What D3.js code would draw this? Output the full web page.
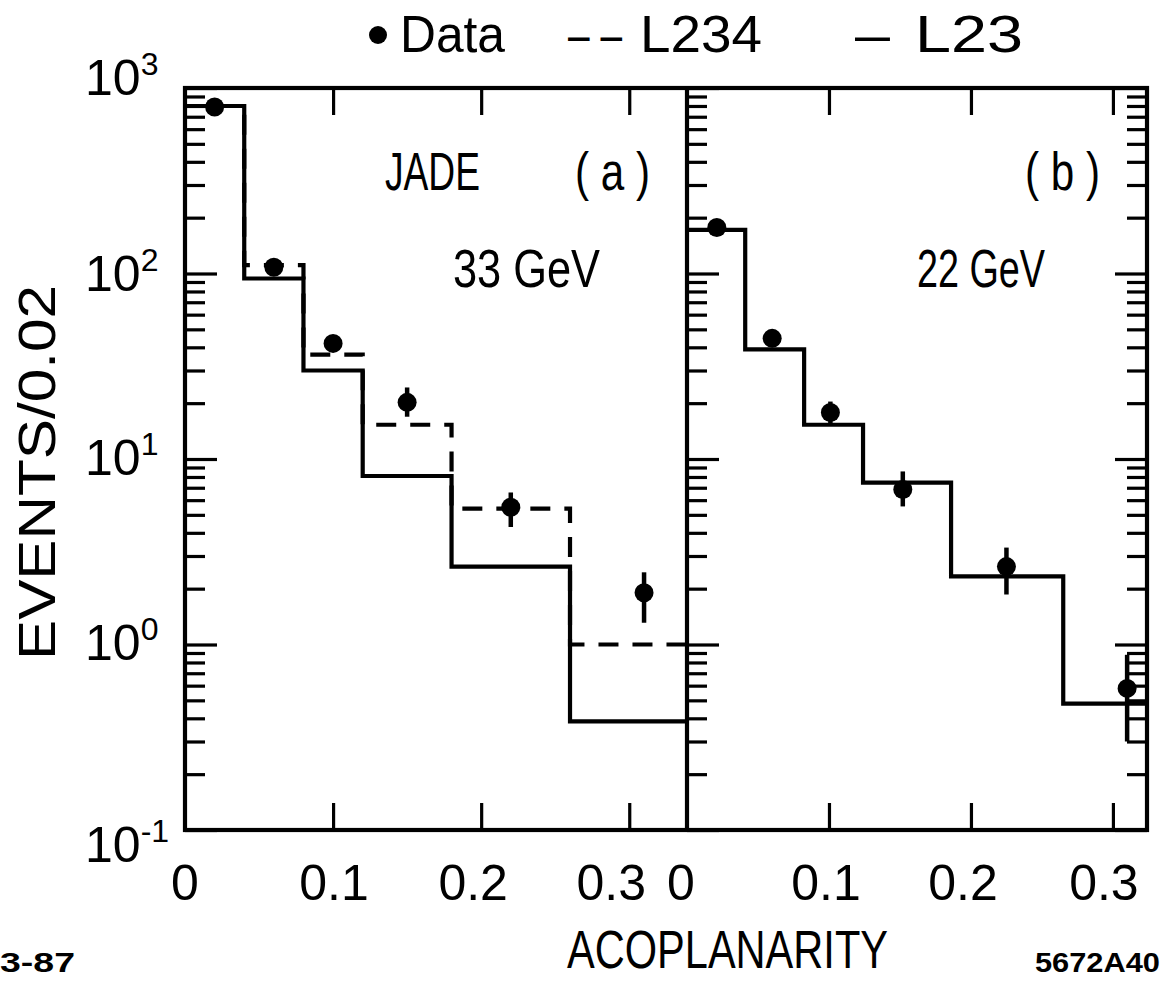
<!DOCTYPE html>
<html>
<head>
<meta charset="utf-8">
<script src="https://cdn.jsdelivr.net/npm/d3@7"></script>
<style>
  html, body { margin: 0; padding: 0; background: #fff; }
  svg { display: block; }
  text { font-family: 'Liberation Sans Narrow', 'Arial Narrow', 'Liberation Sans', Arial, sans-serif; fill: #000; }
</style>
</head>
<body>
<script>
// ---------------- data ----------------
const xTickValues = [0, 0.1, 0.2, 0.3];
const xTickLabels = ["0", "0.1", "0.2", "0.3"];
const yDecades = [0.1, 1, 10, 100, 1000];
const yExponents = ["-1", "0", "1", "2", "3"];

// panel (a) JADE 33 GeV
const binEdgesA = [0, 0.04, 0.08, 0.12, 0.18, 0.26, 0.339];
const l23A  = [800, 94, 30, 8.1, 2.63, 0.385];
const l234A = [800, 111, 36.5, 15.3, 5.4, 1.0];
const dataXA = [0.02, 0.06, 0.10, 0.15, 0.22, 0.31];
const dataYA = [790, 108, 42, 20.2, 5.5, 1.9];
const errLoA = [790, 104, 38, 16.9, 4.3, 1.31];
const errHiA = [790, 112, 46, 24.3, 6.6, 2.45];

// panel (b) 22 GeV
const binEdgesB = [0, 0.041, 0.0825, 0.124, 0.186, 0.265, 0.324];
const l23B  = [172, 39, 15.3, 7.46, 2.33, 0.48];
const dataXB = [0.021, 0.06, 0.101, 0.152, 0.225, 0.31];
const dataYB = [177, 44.7, 17.8, 6.85, 2.63, 0.58];
const errLoB = [177, 44.7, 15.5, 5.55, 1.86, 0.30];
const errHiB = [177, 44.7, 20.4, 8.57, 3.33, 0.88];

// ---------------- layout ----------------
const W = 1165, H = 981;
const yTop = 88, yBottom = 830;
const xA0 = 185, xA1 = 687, xB0 = 687, xB1 = 1147;

const svg = d3.select("body").append("svg").attr("width", W).attr("height", H);

const y = d3.scaleLog().domain([0.1, 1000]).range([yBottom, yTop]);
const xA = d3.scaleLinear().domain([0, binEdgesA[binEdgesA.length - 1]]).range([xA0, xA1]);
const xB = d3.scaleLinear().domain([0, binEdgesB[binEdgesB.length - 1]]).range([xB0, xB1]);

const minorVals = [];
for (let d = 0.1; d < 1000; d *= 10) for (let k = 2; k <= 9; k++) minorVals.push(+(d * k).toPrecision(3));

function styleAxis(g, w) {
  g.select(".domain").remove();
  g.selectAll(".tick line").attr("stroke", "#000").attr("stroke-width", w);
  g.selectAll(".tick text").remove();
}

function yTicksAt(x, dir) {
  const maj = dir > 0 ? d3.axisRight(y) : d3.axisLeft(y);
  const min = dir > 0 ? d3.axisRight(y) : d3.axisLeft(y);
  svg.append("g").attr("transform", `translate(${x},0)`)
    .call(maj.tickValues(yDecades).tickSize(32).tickFormat(""))
    .call(g => styleAxis(g, 3.2));
  svg.append("g").attr("transform", `translate(${x},0)`)
    .call(min.tickValues(minorVals).tickSize(20).tickFormat(""))
    .call(g => styleAxis(g, 3.2));
}
yTicksAt(xA0, 1);
yTicksAt(xB0, 1);
yTicksAt(xB1, -1);

function xTicks(scale) {
  svg.append("g").attr("transform", `translate(0,${yBottom})`)
    .call(d3.axisTop(scale).tickValues([0.1, 0.2, 0.3]).tickSize(27).tickFormat(""))
    .call(g => styleAxis(g, 3.2));
  svg.append("g").attr("transform", `translate(0,${yTop})`)
    .call(d3.axisBottom(scale).tickValues([0.1, 0.2, 0.3]).tickSize(27).tickFormat(""))
    .call(g => styleAxis(g, 3.2));
}
xTicks(xA);
xTicks(xB);

// frame
svg.append("rect").attr("x", xA0).attr("y", yTop).attr("width", xB1 - xA0).attr("height", yBottom - yTop)
  .attr("fill", "none").attr("stroke", "#000").attr("stroke-width", 4.2);
svg.append("line").attr("x1", xB0).attr("x2", xB0).attr("y1", yTop).attr("y2", yBottom)
  .attr("stroke", "#000").attr("stroke-width", 4.2);

// histograms
function hist(xs, edges, vals, dash) {
  const pts = vals.map((v, i) => [edges[i], v]);
  pts.push([edges[edges.length - 1], vals[vals.length - 1]]);
  const line = d3.line().x(d => xs(d[0])).y(d => y(d[1])).curve(d3.curveStepAfter);
  svg.append("path").attr("d", line(pts)).attr("fill", "none").attr("stroke", "#000")
    .attr("stroke-width", 4.2).attr("stroke-linejoin", "miter")
    .attr("stroke-dasharray", dash || null);
}
hist(xA, binEdgesA, l234A, "20,14");
hist(xA, binEdgesA, l23A);
hist(xB, binEdgesB, l23B);

// data points
function points(xs, X, Y, lo, hi) {
  const g = svg.append("g");
  X.forEach((xv, i) => {
    g.append("line").attr("x1", xs(xv)).attr("x2", xs(xv)).attr("y1", y(lo[i])).attr("y2", y(hi[i]))
      .attr("stroke", "#000").attr("stroke-width", 4.5);
    g.append("circle").attr("cx", xs(xv)).attr("cy", y(Y[i])).attr("r", 9.5).attr("fill", "#000");
  });
}
points(xA, dataXA, dataYA, errLoA, errHiA);
points(xB, dataXB, dataYB, errLoB, errHiB);

// y tick labels
const yLabelDy = [32, 15, 16, 17, 7];
yDecades.forEach((v, i) => {
  const t = svg.append("text").attr("x", 85).attr("y", y(v) + yLabelDy[i]).attr("font-size", 50);
  t.append("tspan").text("10");
  t.append("tspan").attr("font-size", 32).attr("dy", -20).text(yExponents[i]);
});

// x tick labels
function xLabels(xs, shifts) {
  xTickValues.forEach((v, i) => {
    svg.append("text").attr("x", xs(v) + shifts[i]).attr("y", 900).attr("font-size", 50)
      .attr("text-anchor", "middle").text(xTickLabels[i]);
  });
}
xLabels(xA, [0, 1, -8, -18]);
xLabels(xB, [-6, -3, -8, -9]);

// axis titles
svg.append("text").attr("x", 567).attr("y", 968).attr("font-size", 54)
  .attr("textLength", 321).attr("lengthAdjust", "spacingAndGlyphs").text("ACOPLANARITY");
svg.append("text").attr("transform", "translate(55,660) rotate(-90)").attr("font-size", 52)
  .attr("textLength", 375).attr("lengthAdjust", "spacingAndGlyphs").text("EVENTS/0.02");

// annotations
svg.append("text").attr("x", 385).attr("y", 190).attr("font-size", 54).attr("textLength", 95)
  .attr("lengthAdjust", "spacingAndGlyphs").text("JADE");
svg.append("text").attr("x", 575).attr("y", 190).attr("font-size", 54).attr("textLength", 75)
  .attr("lengthAdjust", "spacingAndGlyphs").text("( a )");
svg.append("text").attr("x", 453).attr("y", 287).attr("font-size", 54).attr("textLength", 147)
  .attr("lengthAdjust", "spacingAndGlyphs").text("33 GeV");
svg.append("text").attr("x", 1025).attr("y", 190).attr("font-size", 54).attr("textLength", 75)
  .attr("lengthAdjust", "spacingAndGlyphs").text("( b )");
svg.append("text").attr("x", 917).attr("y", 287).attr("font-size", 54).attr("textLength", 128)
  .attr("lengthAdjust", "spacingAndGlyphs").text("22 GeV");

// legend
svg.append("circle").attr("cx", 378).attr("cy", 35).attr("r", 9).attr("fill", "#000");
svg.append("text").attr("x", 400).attr("y", 52).attr("font-size", 52).attr("textLength", 105)
  .attr("lengthAdjust", "spacingAndGlyphs").text("Data");
svg.append("text").attr("x", 568).attr("y", 52).attr("font-size", 52).attr("textLength", 54)
  .attr("lengthAdjust", "spacingAndGlyphs").text("– –");
svg.append("text").attr("x", 640).attr("y", 52).attr("font-size", 52).attr("textLength", 122)
  .attr("lengthAdjust", "spacingAndGlyphs").text("L234");
svg.append("text").attr("x", 855).attr("y", 52).attr("font-size", 52).attr("textLength", 35)
  .attr("lengthAdjust", "spacingAndGlyphs").text("–");
svg.append("text").attr("x", 915).attr("y", 52).attr("font-size", 52).attr("textLength", 108)
  .attr("lengthAdjust", "spacingAndGlyphs").text("L23");

// corner notes
svg.append("text").attr("x", 0).attr("y", 972).attr("font-size", 27).attr("font-weight", "bold")
  .attr("textLength", 75).attr("lengthAdjust", "spacingAndGlyphs").text("3-87");
svg.append("text").attr("x", 1035).attr("y", 972).attr("font-size", 27).attr("font-weight", "bold")
  .attr("textLength", 125).attr("lengthAdjust", "spacingAndGlyphs").text("5672A40");
</script>
</body>
</html>
